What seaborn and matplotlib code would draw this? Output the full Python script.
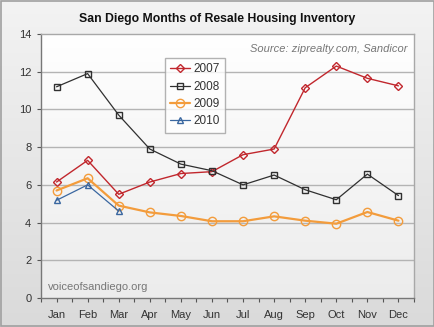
import numpy as np
import pandas as pd
import matplotlib
matplotlib.use("Agg")
import matplotlib.pyplot as plt
import seaborn as sns

months = ["Jan", "Feb", "Mar", "Apr", "May", "Jun", "Jul", "Aug", "Sep", "Oct", "Nov", "Dec"]
y2007 = [6.15, 7.3, 5.5, 6.15, 6.6, 6.7, 7.6, 7.9, 11.15, 12.3, 11.65, 11.25]
y2008 = [11.2, 11.9, 9.7, 7.9, 7.1, 6.75, 6.0, 6.52, 5.74, 5.21, 6.57, 5.43]
y2009 = [5.7, 6.35, 4.9, 4.54, 4.35, 4.07, 4.07, 4.33, 4.1, 3.94, 4.56, 4.1]
y2010 = [5.18, 6.0, 4.61]
yticks = [0, 2, 4, 6, 8, 10, 12, 14]

sns.set_style("white")
plt.rcParams["font.family"] = ["Liberation Sans", "DejaVu Sans"]

fig = plt.figure(figsize=(4.35, 3.27), dpi=100)
fig.patch.set_facecolor("#e6e6e6")

# figure background gradient + border
bg = fig.add_axes([0, 0, 1, 1], zorder=-10)
grad = np.linspace(0, 1, 256).reshape(-1, 1)
bg.imshow(grad, aspect="auto", cmap=matplotlib.colors.LinearSegmentedColormap.from_list(
    "g", ["#f3f3f3", "#dadada"]), extent=[0, 1, 0, 1])
bg.set_xlim(0, 1); bg.set_ylim(0, 1)
bg.axis("off")
bg.add_patch(plt.Rectangle((0.002, 0.003), 0.995, 0.993, fill=False, ec="#a0a0a0", lw=1.2))

ax = fig.add_axes([41 / 435, 1 - 298 / 327, 373 / 435, 264 / 327])
ax.set_facecolor("none")
# plot area gradient
ax.imshow(np.linspace(0, 1, 256).reshape(-1, 1)[::-1], aspect="auto",
          cmap=matplotlib.colors.LinearSegmentedColormap.from_list("p", ["#ffffff", "#ececec"]),
          extent=[-0.5, 11.5, 0, 14], zorder=0, origin="lower")

series = [
    ("2007", y2007, "#c1272d", "D", 3.8, 1.0),
    ("2008", y2008, "#303030", "s", 4.5, 0.9),
    ("2009", y2009, "#f39c3c", "o", 6, 1.6),
    ("2010", y2010, "#3a67a0", "^", 4.5, 0.9),
]
for name, vals, col, mk, ms, lw in series:
    df = pd.DataFrame({"x": np.arange(len(vals)), "y": vals})
    sns.lineplot(data=df, x="x", y="y", ax=ax, color=col, marker=mk, markersize=ms,
                 markerfacecolor="none", markeredgecolor=col, markeredgewidth=1.0,
                 linewidth=lw, label=name, zorder=5)

ax.set_xlim(-0.5, 11.5)
ax.set_ylim(0, 14)
ax.set_yticks(yticks)
ax.set_yticklabels([str(v) for v in yticks])
ax.set_xticks(range(12))
ax.set_xticklabels(months)
ax.set_xticks(np.arange(-0.5, 12, 1), minor=True)
ax.set_xlabel("")
ax.set_ylabel("")
ax.tick_params(axis="both", which="major", labelsize=8, colors="#555555", labelcolor="#333333",
               length=3, width=0.8, direction="out", pad=4)
ax.tick_params(axis="x", which="major", pad=6)
ax.tick_params(axis="x", which="minor", length=3, width=0.8, color="#555555", direction="out")
ax.tick_params(left=True, bottom=True, which="both")
for y in yticks[1:-1]:
    ax.axhline(y, color="#b4b4b4", lw=1, zorder=1)
for side in ["left", "bottom"]:
    ax.spines[side].set_color("#777777")
    ax.spines[side].set_linewidth(1.0)
for side in ["top", "right"]:
    ax.spines[side].set_color("#a8a8a8")
    ax.spines[side].set_linewidth(1.0)

leg = ax.legend(loc="upper left", bbox_to_anchor=(0.332, 0.909), frameon=True, fancybox=False,
                fontsize=8.5, handlelength=1.7, handletextpad=0.3, borderpad=0.45,
                labelspacing=0.45, borderaxespad=0)
leg.get_frame().set_edgecolor("#a0a0a0")
leg.get_frame().set_facecolor("white")
leg.get_frame().set_linewidth(1.0)
for t in leg.get_texts():
    t.set_color("#333333")
leg.set_zorder(10)

ax.text(0.982, 0.945, "Source: ziprealty.com, Sandicor", transform=ax.transAxes, ha="right",
        va="center", fontsize=8, style="italic", color="#777777")
ax.text(0.02, 0.04, "voiceofsandiego.org", transform=ax.transAxes, ha="left", va="center",
        fontsize=8, color="#777777")
fig.text(0.5, 1 - 19 / 327, "San Diego Months of Resale Housing Inventory", ha="center",
         va="center", fontsize=8.8, fontweight="bold", color="#111111")

fig.savefig("out.png", dpi=100)
